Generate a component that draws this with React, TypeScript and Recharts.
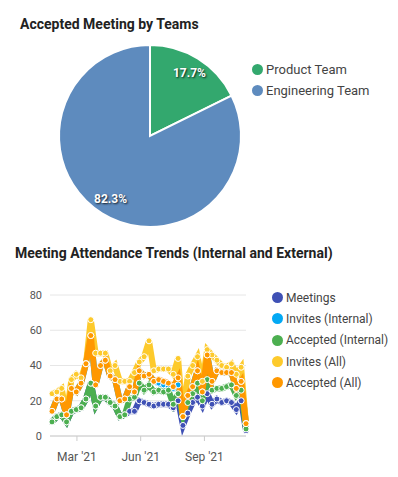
import React from "react";
import {
  PieChart,
  Pie,
  Cell,
  Legend,
  LineChart,
  Line,
  XAxis,
  YAxis,
  CartesianGrid,
} from "recharts";

// Pie: accepted meetings by team
const teamNames = ["Product Team", "Engineering Team"];
const teamShares = [17.7, 82.3];
const teamColors = ["#33a86e", "#5e8bbe"];

// Line chart: weekly attendance
const weeks = [
  "2021-01-24", "2021-01-31", "2021-02-07", "2021-02-14", "2021-02-21", "2021-02-28",
  "2021-03-07", "2021-03-14", "2021-03-21", "2021-03-28", "2021-04-04", "2021-04-11",
  "2021-04-18", "2021-04-25", "2021-05-02", "2021-05-09", "2021-05-16", "2021-05-23",
  "2021-05-30", "2021-06-06", "2021-06-13", "2021-06-20", "2021-06-27", "2021-07-04",
  "2021-07-11", "2021-07-18", "2021-07-25", "2021-08-01", "2021-08-08", "2021-08-15",
  "2021-08-22", "2021-08-29", "2021-09-05", "2021-09-12", "2021-09-19", "2021-09-26",
  "2021-10-03", "2021-10-10", "2021-10-17", "2021-10-24", "2021-10-31",
];
const meetings = [
  8, 11, 12, 8, 14, 15, 16, 21, 30, 17, 22, 22, 19, 17, 11, 12, 14, 14, 20, 19, 18,
  17, 18, 18, 18, 16, 20, 6, 13, 19, 22, 17, 24, 18, 21, 19, 20, 19, 15, 20, 3,
];
const invitesInternal = [
  14, 21, 21, 12, 27, 25, 30, 41, 57, 29, 40, 43, 34, 32, 20, 21, 28, 25, 37, 34, 35,
  31, 30, 29, 28, 27, 29, 11, 23, 28, 37, 25, 46, 31, 37, 36, 36, 36, 27, 31, 7,
];
const acceptedInternal = [
  8, 11, 12, 8, 14, 15, 16, 21, 30, 17, 22, 22, 19, 17, 11, 12, 21, 22, 30, 26, 29,
  25, 26, 25, 26, 18, 24, 11, 19, 24, 30, 20, 32, 26, 27, 27, 28, 29, 23, 26, 4,
];
const invitesAll = [
  24, 25, 27, 12, 32, 35, 33, 41, 66, 47, 47, 47, 37, 40, 31, 31, 31, 36, 42, 45, 54,
  37, 38, 38, 38, 35, 44, 11, 34, 40, 45, 31, 49, 46, 43, 40, 39, 41, 35, 39, 7,
];
const acceptedAll = [
  14, 21, 21, 12, 27, 25, 30, 41, 57, 29, 40, 43, 34, 32, 20, 21, 28, 25, 37, 34, 35,
  31, 32, 31, 30, 28, 33, 11, 23, 28, 37, 25, 46, 31, 37, 36, 36, 36, 27, 31, 7,
];
const yTicks = [0, 20, 40, 60, 80];
const xTickDates = ["2021-03-01", "2021-06-01", "2021-09-01"];
const monthNames = ["Jan", "Feb", "Mar", "Apr", "May", "Jun", "Jul", "Aug", "Sep", "Oct", "Nov", "Dec"];

const toTime = (s: string) => {
  const [y, m, d] = s.split("-").map(Number);
  return Date.UTC(y, m - 1, d);
};

const pieData = teamNames.map((name, i) => ({ name, value: teamShares[i] }));

const trendData = weeks.map((w, i) => ({
  t: toTime(w),
  meetings: meetings[i],
  invitesInternal: invitesInternal[i],
  acceptedInternal: acceptedInternal[i],
  invitesAll: invitesAll[i],
  acceptedAll: acceptedAll[i],
}));

const series = [
  { key: "meetings", name: "Meetings", color: "#3f51b5" },
  { key: "invitesInternal", name: "Invites (Internal)", color: "#03a9f4" },
  { key: "acceptedInternal", name: "Accepted (Internal)", color: "#4caf50" },
  { key: "invitesAll", name: "Invites (All)", color: "#fdca2c" },
  { key: "acceptedAll", name: "Accepted (All)", color: "#ff9800" },
];

const RAD = Math.PI / 180;

const renderPieLabel = (props: any) => {
  const { cx, cy, midAngle, outerRadius, percent } = props;
  const r = outerRadius * 0.82;
  const x = cx + r * Math.cos(-midAngle * RAD);
  const y = cy + r * Math.sin(-midAngle * RAD);
  return (
    <text
      x={x}
      y={y}
      fill="#fff"
      textAnchor="middle"
      dominantBaseline="central"
      fontSize={12}
      fontWeight="bold"
      style={{ textShadow: "1px 1px 2px rgba(0,0,0,0.8)" }}
    >
      {(percent * 100).toFixed(1)}%
    </text>
  );
};

// simple vertical legend: coloured dot + grey label, kept in data order
const DotLegend = ({ payload, order, fontSize, gap, dot }: any) => {
  const items = [...(payload || [])].sort(
    (a: any, b: any) => order.indexOf(a.value) - order.indexOf(b.value)
  );
  return (
    <div>
      {items.map((entry: any, i: number) => (
        <div
          key={i}
          style={{ display: "flex", alignItems: "center", height: gap, fontSize, color: "#444" }}
        >
          <span
            style={{
              width: dot,
              height: dot,
              borderRadius: "50%",
              background: entry.color,
              marginRight: 3,
              display: "inline-block",
            }}
          />
          {entry.value}
        </div>
      ))}
    </div>
  );
};

const formatMonth = (v: number) => {
  const d = new Date(v);
  return `${monthNames[d.getUTCMonth()]} '${String(d.getUTCFullYear()).slice(2)}`;
};

const titleStyle: React.CSSProperties = {
  position: "absolute",
  fontWeight: "bold",
  fontSize: 14,
  color: "#222",
  whiteSpace: "nowrap",
};

export default function App() {
  return (
    <div
      style={{
        position: "absolute",
        left: 0,
        top: 0,
        width: 398,
        height: 477,
        background: "#fff",
        fontFamily: "Roboto, sans-serif",
      }}
    >
      <div style={{ ...titleStyle, left: 20, top: 16 }}>Accepted Meeting by Teams</div>
      <div style={{ position: "absolute", left: 0, top: 0 }}>
        <PieChart width={398} height={240} margin={{ top: 0, right: 0, left: 0, bottom: 0 }}>
          <Pie
            data={pieData}
            dataKey="value"
            nameKey="name"
            cx={150}
            cy={136}
            outerRadius={91}
            startAngle={90}
            endAngle={-270}
            stroke="#fff"
            strokeWidth={2}
            label={renderPieLabel}
            labelLine={false}
            isAnimationActive={false}
          >
            {pieData.map((_, i) => (
              <Cell key={`cell-${i}`} fill={teamColors[i]} />
            ))}
          </Pie>
          <Legend
            layout="vertical"
            align="center"
            verticalAlign="middle"
            wrapperStyle={{ left: 252, top: 59, width: 140 }}
            content={(p: any) => (
              <DotLegend payload={p.payload} order={teamNames} fontSize={13} gap={21} dot={11} />
            )}
          />
        </PieChart>
      </div>

      <div style={{ ...titleStyle, left: 15, top: 245 }}>
        Meeting Attendance Trends (Internal and External)
      </div>
      <div style={{ position: "absolute", left: 0, top: 280 }}>
        <LineChart
          width={398}
          height={190}
          data={trendData}
          margin={{ top: 15, right: 152, left: 0, bottom: 0 }}
        >
          <CartesianGrid vertical={false} stroke="#e6e6e6" />
          <XAxis
            dataKey="t"
            type="number"
            scale="time"
            domain={["dataMin", "dataMax"]}
            padding={{ left: 2, right: 0 }}
            ticks={xTickDates.map(toTime)}
            tickFormatter={formatMonth}
            height={34}
            stroke="#ccc"
            tickSize={5}
            tickMargin={11}
            tick={{ fill: "#555", fontSize: 12 }}
          />
          <YAxis
            domain={[0, 80]}
            ticks={yTicks}
            width={50}
            axisLine={false}
            tickLine={false}
            tick={{ fill: "#555", fontSize: 11 }}
          />
          {series.map((s) => (
            <Line
              key={s.key}
              type="linear"
              dataKey={s.key}
              name={s.name}
              stroke={s.color}
              strokeWidth={6}
              dot={{ r: 3, fill: s.color, stroke: "#fff", strokeWidth: 1 }}
              isAnimationActive={false}
            />
          ))}
          <Legend
            layout="vertical"
            align="center"
            verticalAlign="middle"
            wrapperStyle={{ left: 272, top: 7, width: 126 }}
            content={(p: any) => (
              <DotLegend
                payload={p.payload}
                order={series.map((s) => s.name)}
                fontSize={12}
                gap={21.3}
                dot={11}
              />
            )}
          />
        </LineChart>
      </div>
    </div>
  );
}
